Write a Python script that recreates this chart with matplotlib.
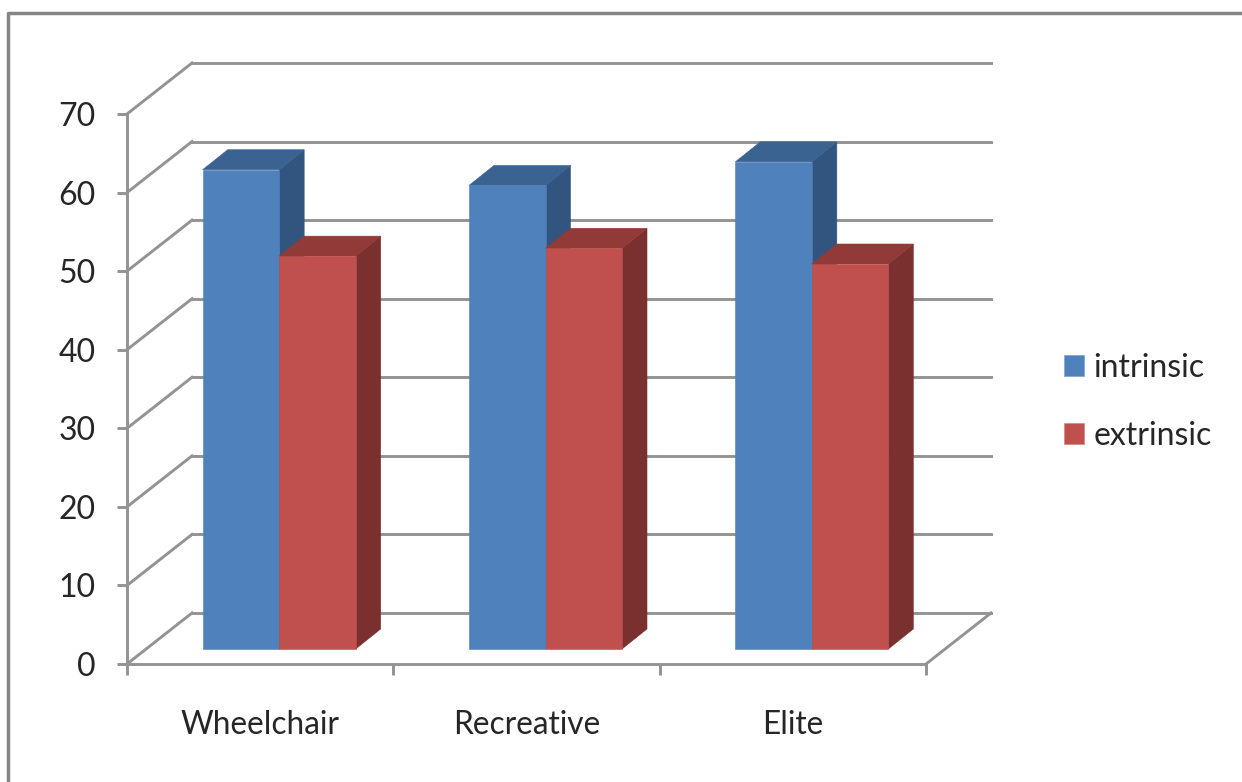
import matplotlib
matplotlib.use('Agg')
import matplotlib.pyplot as plt
from matplotlib.lines import Line2D
from matplotlib.patches import Patch, Polygon
from matplotlib.transforms import IdentityTransform

categories = ['Wheelchair', 'Recreative', 'Elite']
intrinsic = [61, 59, 62]
extrinsic = [50, 51, 49]
y_ticks = [0, 10, 20, 30, 40, 50, 60, 70]

plt.rcParams['font.family'] = ['Lato', 'DejaVu Sans']

W, H = 1242, 782
GRID = '#939393'
TEXT = '#262626'

fig = plt.figure(figsize=(W / 100, H / 100), dpi=100)
# axes box is the front plane of the fake 3d chart
ax = fig.add_axes([127 / W, (H - 664) / H, (926 - 127) / W, (664 - 114) / H])
ax.set_xlim(0, 3)
ax.set_ylim(0, 70)
ax.patch.set_visible(False)

for s in ['top', 'right']:
    ax.spines[s].set_visible(False)
for s in ['left', 'bottom']:
    ax.spines[s].set_color(GRID)
    ax.spines[s].set_linewidth(2.1)

ax.set_yticks(y_ticks)
ax.set_xticks([0, 1, 2, 3])
ax.set_xticklabels([])
ax.set_xticks([0.5, 1.5, 2.5], minor=True)
ax.set_xticklabels(categories, minor=True, fontsize=22.8, color=TEXT)
ax.tick_params(axis='y', length=7.5, width=2.1, color=GRID, pad=15, labelsize=23, labelcolor=TEXT)
ax.tick_params(axis='x', which='major', length=8, width=2.1, color=GRID)
ax.tick_params(axis='x', which='minor', length=0, pad=33)


def px(x, y, dx=0, dy=0):
    p = ax.transData.transform((x, y))
    return (p[0] + dx, p[1] + dy)


def seg(a, b, z=1):
    ax.add_line(Line2D([a[0], b[0]], [a[1], b[1]], color=GRID, lw=2.1,
                       transform=IdentityTransform(), clip_on=False, zorder=z))


def poly(pts, color, z):
    ax.add_patch(Polygon(pts, closed=True, facecolor=color, edgecolor=color, lw=0.4,
                         transform=IdentityTransform(), clip_on=False, zorder=z))


# back wall gridlines and the diagonals on the left wall
WALL_X, WALL_Y = 65, 51
for v in y_ticks:
    seg(px(0, v), px(0, v, WALL_X, WALL_Y))
    seg(px(0, v, WALL_X, WALL_Y), px(3, v, WALL_X, WALL_Y))
seg(px(3, 0), px(3, 0, WALL_X, WALL_Y))

# bars: front face sits a bit in front of the wall, depth goes up and right
BAR_W = 76.5 / (799 / 3)
OFF_X, OFF_Y = 19, 15
DEPTH_X, DEPTH_Y = 25, 20


def bar3d(left, value, front, top, side, z):
    right = left + BAR_W
    bl = px(left, 0, OFF_X, OFF_Y)
    br = px(right, 0, OFF_X, OFF_Y)
    tl = px(left, value, OFF_X, OFF_Y)
    tr = px(right, value, OFF_X, OFF_Y)
    poly([br, tr, (tr[0] + DEPTH_X, tr[1] + DEPTH_Y), (br[0] + DEPTH_X, br[1] + DEPTH_Y)], side, z)
    poly([tl, tr, (tr[0] + DEPTH_X, tr[1] + DEPTH_Y), (tl[0] + DEPTH_X, tl[1] + DEPTH_Y)], top, z)
    poly([bl, br, tr, tl], front, z + 0.5)


for i in range(len(categories)):
    c = i + 0.5
    bar3d(c - BAR_W, intrinsic[i], '#4f81bd', '#3b6392', '#32557f', 3 + i)
    bar3d(c, extrinsic[i], '#c0504d', '#923a38', '#7a302e', 3.7 + i)

handles = [Patch(facecolor='#4f81bd', edgecolor='#7fa3cf', lw=0.5, label='intrinsic'),
           Patch(facecolor='#c0504d', edgecolor='#d58582', lw=0.5, label='extrinsic')]
fig.legend(handles=handles, loc='upper left', bbox_to_anchor=(1051 / W, (H - 340) / H),
           frameon=False, fontsize=23, labelcolor=TEXT, handlelength=0.64, handleheight=0.64,
           handletextpad=0.28, labelspacing=1.19, borderpad=0.4, borderaxespad=0)

# outer border, only left and top show
fig.add_artist(Line2D([8 / W, 8 / W, 1], [0, (H - 13) / H, (H - 13) / H], color='#858585', lw=2.5))

fig.savefig('out.png', dpi=100)
